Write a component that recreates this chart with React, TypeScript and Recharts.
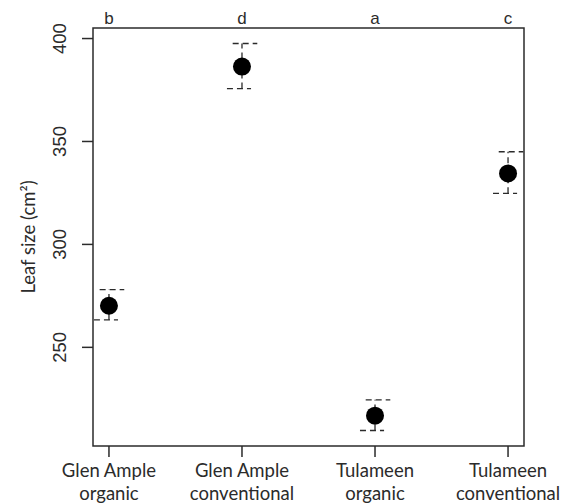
import { ScatterChart, Scatter, XAxis, YAxis, ReferenceLine, ReferenceArea } from "recharts";

// treatment groups, in plotting order
const groups = ["Glen Ample organic", "Glen Ample conventional", "Tulameen organic", "Tulameen conventional"];
const groupLines = [
  ["Glen Ample", "organic"],
  ["Glen Ample", "conventional"],
  ["Tulameen", "organic"],
  ["Tulameen", "conventional"],
];
// significance letters shown above each group
const letters = ["b", "d", "a", "c"];
// mean leaf size (cm²) and interval bounds
const means = [270.2, 386.4, 216.8, 334.5];
const upper = [278.0, 397.6, 224.5, 345.0];
const lower = [263.3, 375.7, 209.6, 324.8];
const yTicks = [250, 300, 350, 400];

const INK = "#2b2b2b";
const LABEL_FONT = "Lato, 'Open Sans', sans-serif";
const NUM_FONT = "'Liberation Sans', Arial, sans-serif";

const data = groups.map((name, i) => ({
  name,
  x: i + 1,
  mean: means[i],
  lo: lower[i],
  hi: upper[i],
  letter: letters[i],
}));

// R-style 4% padding around the data range
const yMin = Math.min(...lower);
const yMax = Math.max(...upper);
const yPad = (yMax - yMin) * 0.04;
const yDomain = [yMin - yPad, yMax + yPad];
const xPad = (groups.length - 1) * 0.04;
const xDomain = [1 - xPad, groups.length + xPad];
const xTicks = data.map((d) => d.x);

function BottomTick({ x, y, payload }: any) {
  const lines = groupLines[payload.value - 1] ?? [];
  return (
    <g>
      {lines.map((ln, i) => (
        <text
          key={i}
          x={x}
          y={y + 18 + i * 23}
          textAnchor="middle"
          fontFamily={LABEL_FONT}
          fontSize={18.5}
          fill={INK}
        >
          {ln}
        </text>
      ))}
    </g>
  );
}

function LeftTick({ x, y, payload }: any) {
  const bx = x - 14;
  return (
    <text
      x={bx}
      y={y}
      transform={`rotate(-90, ${bx}, ${y})`}
      textAnchor="middle"
      fontFamily={NUM_FONT}
      fontSize={18.5}
      fill={INK}
    >
      {payload.value}
    </text>
  );
}

const dash = "6 4";

export default function App() {
  return (
    <div style={{ position: "absolute", left: 0, top: 0, background: "#fff" }}>
      <ScatterChart width={577} height={503} margin={{ top: 28, right: 53, bottom: 0, left: 0 }}>
        <XAxis
          xAxisId="main"
          type="number"
          dataKey="x"
          domain={xDomain}
          ticks={xTicks}
          allowDataOverflow
          height={57}
          axisLine={false}
          tickSize={11}
          tickLine={{ stroke: INK, strokeWidth: 1.5 }}
          tick={<BottomTick />}
          interval={0}
        />
        <YAxis
          type="number"
          dataKey="mean"
          domain={yDomain}
          ticks={yTicks}
          allowDataOverflow
          width={93}
          axisLine={false}
          tickSize={11}
          tickLine={{ stroke: INK, strokeWidth: 1.5 }}
          tick={<LeftTick />}
          interval={0}
          label={{
            value: "Leaf size (cm²)",
            angle: -90,
            position: "insideLeft",
            content: ({ viewBox }: any) => {
              const cy = viewBox.y + viewBox.height / 2;
              return (
                <text
                  x={35}
                  y={cy}
                  transform={`rotate(-90, 35, ${cy})`}
                  textAnchor="middle"
                  fontFamily={LABEL_FONT}
                  fontSize={18.5}
                  fill={INK}
                >
                  Leaf size (cm²)
                </text>
              );
            },
          }}
        />
        <ReferenceArea
          xAxisId="main"
          x1={xDomain[0]}
          x2={xDomain[1]}
          y1={yDomain[0]}
          y2={yDomain[1]}
          fill="none"
          stroke={INK}
          strokeWidth={1.5}
          ifOverflow="visible"
        />
        {/* significance letters above the frame */}
        {data.map((d) => (
          <ReferenceLine
            key={`t${d.x}`}
            xAxisId="main"
            x={d.x}
            stroke="none"
            ifOverflow="visible"
            label={{
              value: d.letter,
              position: "top",
              content: ({ viewBox }: any) => (
                <text
                  x={viewBox.x}
                  y={viewBox.y - 4.5}
                  textAnchor="middle"
                  fontFamily={NUM_FONT}
                  fontSize={17}
                  fill={INK}
                >
                  {d.letter}
                </text>
              ),
            }}
          />
        ))}
        {data.map((d) => (
          <ReferenceLine
            key={`v${d.x}`}
            xAxisId="main"
            segment={[{ x: d.x, y: d.lo }, { x: d.x, y: d.hi }]}
            stroke={INK}
            strokeWidth={1.3}
            strokeDasharray={dash}
            ifOverflow="visible"
          />
        ))}
        {data.map((d) => (
          <ReferenceLine
            key={`u${d.x}`}
            xAxisId="main"
            segment={[{ x: d.x - 0.07, y: d.hi }, { x: d.x + 0.115, y: d.hi }]}
            stroke={INK}
            strokeWidth={1.3}
            strokeDasharray={dash}
            ifOverflow="visible"
          />
        ))}
        {data.map((d) => (
          <ReferenceLine
            key={`l${d.x}`}
            xAxisId="main"
            segment={[{ x: d.x - 0.113, y: d.lo }, { x: d.x + 0.068, y: d.lo }]}
            stroke={INK}
            strokeWidth={1.3}
            strokeDasharray={dash}
            ifOverflow="visible"
          />
        ))}
        <Scatter
          xAxisId="main"
          data={data}
          dataKey="mean"
          isAnimationActive={false}
          shape={(p: any) => <circle cx={p.cx} cy={p.cy} r={9} fill="#000" />}
        />
      </ScatterChart>
    </div>
  );
}
